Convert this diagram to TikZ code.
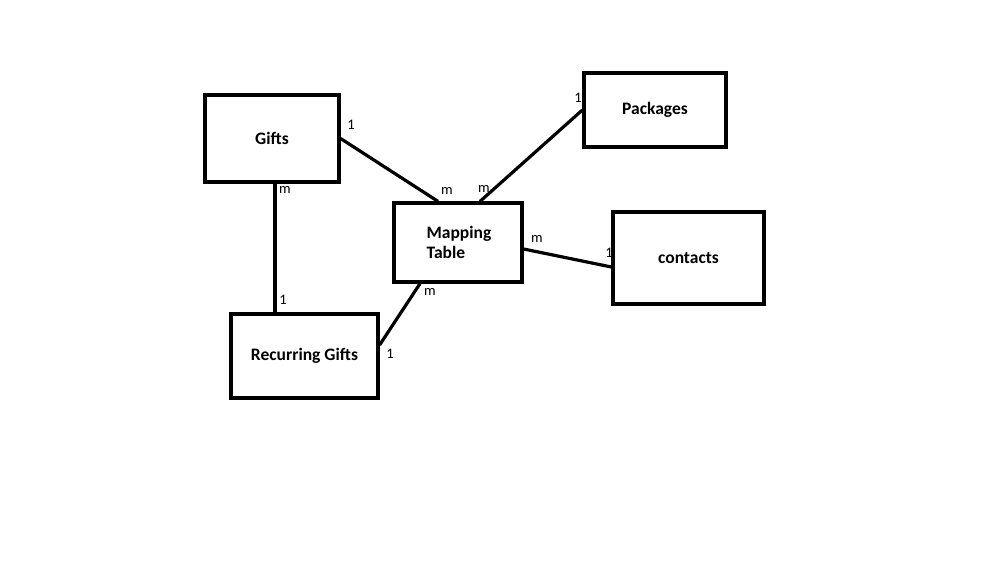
\documentclass[tikz,border=0pt]{standalone}
\usepackage{fontspec}
\setmainfont{Carlito}

\begin{document}
\begin{tikzpicture}[x=1pt,y=-1pt,
    entity/.style={draw,line width=3.2pt,font=\fontsize{17.5}{20.5}\selectfont\bfseries,align=center,inner sep=0pt},
    card/.style={font=\fontsize{14.5}{16}\selectfont,inner sep=0pt},
    rel/.style={line width=3.2pt}]
      \useasboundingbox (0,0) rectangle (999,562);
      \node[entity,minimum width=134pt,minimum height=87pt] (gifts) at (272,138.5) {Gifts};
      \node[entity,minimum width=142pt,minimum height=74pt] (pack) at (655,110) {Packages};
      \node[entity,align=left,minimum width=128pt,minimum height=79pt] (map) at (458,242.5) {\hspace*{2pt}Mapping\\\hspace*{2pt}Table};
      \node[entity,minimum width=151pt,minimum height=92pt] (cont) at (688.5,258) {contacts};
      \node[entity,minimum width=147pt,minimum height=84pt] (rec) at (304.5,356) {Recurring Gifts};
      \draw[rel] (gifts.east) -- ([xshift=-20pt]map.north);
      \draw[rel] (pack.west) -- ([xshift=22pt]map.north);
      \draw[rel] ([yshift=-6.5pt]map.east) -- ([yshift=-9pt]cont.west);
      \draw[rel] ([xshift=3pt]gifts.south) -- ([xshift=3pt]gifts.south |- rec.north);
      \draw[rel] ([xshift=-38pt]map.south) -- ([yshift=11pt]rec.east);
      \node[card] (c1) at (351,125) {1};
      \node[card] (c2) at (447,191) {m};
      \node[card] (c3) at (484,189) {m};
      \node[card] (c4) at (578,98) {1};
      \node[card] (c5) at (537,239) {m};
      \node[card] (c6) at (609,253) {1};
      \node[card] (c7) at (285,190) {m};
      \node[card] (c8) at (283,300) {1};
      \node[card] (c9) at (430,292) {m};
      \node[card] (c10) at (390,354) {1};
    \end{tikzpicture}
\end{document}
